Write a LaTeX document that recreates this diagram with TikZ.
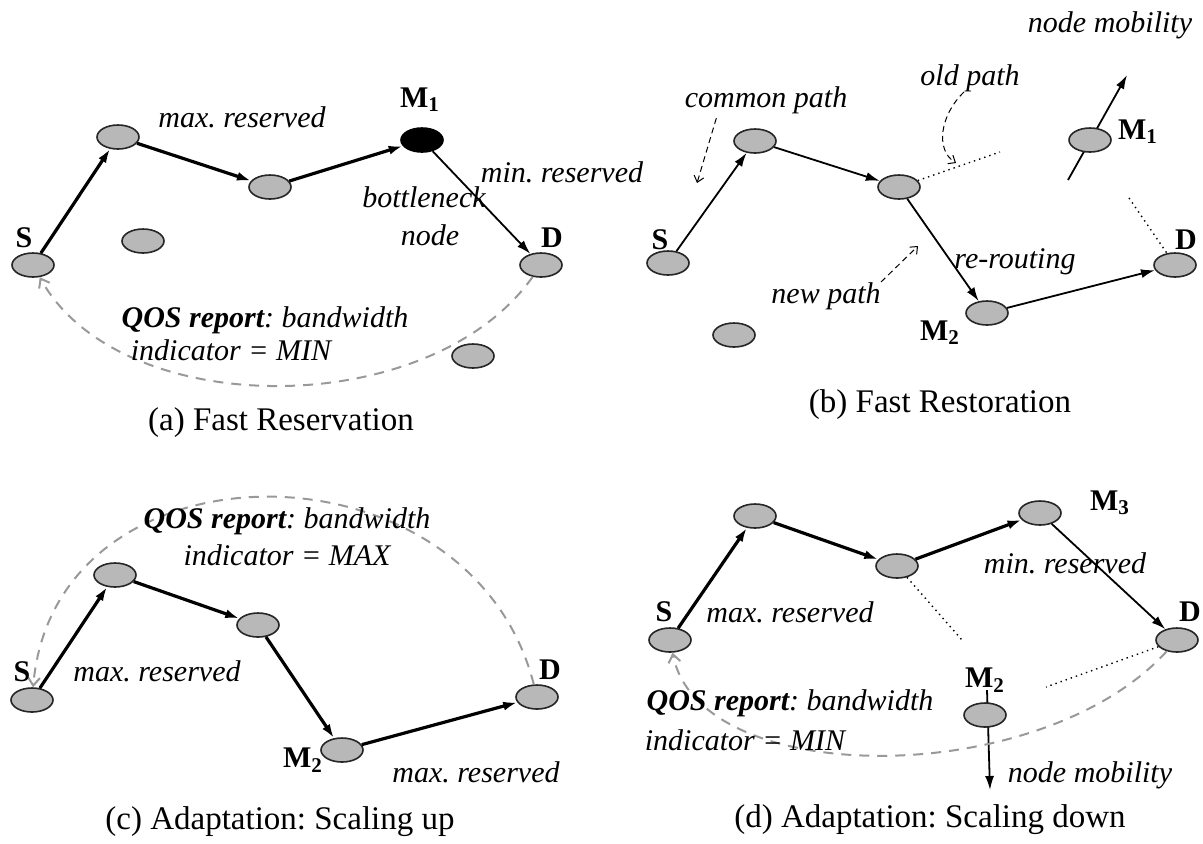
\documentclass[tikz,border=0pt]{standalone}
\usepackage{fontspec}
\setmainfont{Liberation Serif}
\usetikzlibrary{shapes.geometric,arrows.meta}
\frenchspacing

\begin{document}
\begin{tikzpicture}[x=0.5pt, y=-0.5pt,
  host/.style = {shape=ellipse, draw=black!85, line width=0.8pt, fill=black!28,
    minimum width=21pt, minimum height=12pt, inner sep=0pt},
  hub/.style = {host, fill=black, draw=black},
  tag/.style = {font=\fontsize{15}{17}\selectfont\bfseries, inner sep=0pt},
  note/.style = {font=\fontsize{15}{18}\selectfont\itshape, inner sep=0pt},
  capt/.style = {font=\fontsize{16.5}{19}\selectfont, inner sep=0pt},
  fat/.style = {line width=1.6pt, -{Latex[length=7pt,width=4.5pt]}},
  slim/.style = {line width=0.9pt, -{Latex[length=7pt,width=4.5pt]}},
  report/.style = {black!40, line width=1pt, dash pattern=on 5pt off 4pt,
    -{Straight Barb[length=4pt,width=6pt]}},
  hint/.style = {line width=0.5pt, dash pattern=on 3pt off 2pt,
    -{Straight Barb[length=3pt,width=5pt]}},
  gone/.style = {line width=0.7pt, dotted}]
\useasboundingbox (0,0) rectangle (1203,843);

% (a) fast reservation
\node[host] (aS) at (33,265) {};
\node[host] (a1) at (118,137) {};
\node[host] (a2) at (270,187) {};
\node[hub] (aM1) at (422,140) {};
\node[host] (aD) at (541,265) {};
\node[host] (a3) at (143,241) {};
\node[host] (a4) at (473,356) {};
\draw[fat] (aS) -- (a1);
\draw[fat] (a1) -- (a2);
\draw[fat] (a2) -- (aM1);
\draw[slim] (aM1) -- (aD);
\draw[report] (aD) .. controls (430,422) and (120,422) .. (aS);
\node[tag] (aSl) at (24,238) {S};
\node[tag] (aDl) at (552,238) {D};
\node[tag] (aM1l) at (420,100) {M\textsubscript{1}};
\node[note] (aMax) at (242,117) {max. reserved};
\node[note] (aMin) at (562,172) {min. reserved};
\node[note] (aBott) at (424,197) {bottleneck};
\node[note] (aNode) at (430,235) {node};
\node[note] (aQos) at (265,320) {\textbf{QOS report}: bandwidth};
\node[note] (aInd) at (231,350) {indicator = MIN};
\node[capt] (aCap) at (281,423) {(a) Fast Reservation};

% (b) fast restoration
\node[host] (bS) at (668,263) {};
\node[host] (b1) at (755,141) {};
\node[host] (b2) at (899,187) {};
\node[host] (bM2) at (987,313) {};
\node[host] (bD) at (1175,265) {};
\node[host] (b3) at (734,335) {};
\coordinate (bFrom) at (1068,180);
\coordinate (bGo) at (1127,75);
\draw[slim] (bFrom) -- (bGo);
\node[host] (bM1) at (1090,140) {};
\draw[slim] (bS) -- (b1);
\draw[slim] (b1) -- (b2);
\draw[slim] (b2) -- (bM2);
\draw[slim] (bM2) -- (bD);
\coordinate (bOld1) at (1000,152);
\coordinate (bOld2) at (1129,198);
\draw[gone] (b2) -- (bOld1);
\draw[gone] (bOld2) -- (bD);
\node[tag] (bSl) at (660,240) {S};
\node[tag] (bDl) at (1186,240) {D};
\node[tag] (bM1l) at (1138,132) {M\textsubscript{1}};
\node[tag] (bM2l) at (940,333) {M\textsubscript{2}};
\node[note] (bMob) at (1110,25) {node mobility};
\node[note] (bOld) at (970,78) {old path};
\node[note] (bCommon) at (766,100) {common path};
\node[note] (bRe) at (1015,262) {re-routing};
\node[note] (bNew) at (826,296) {new path};
\coordinate (bTipOld) at (956,163);
\coordinate (bTipCommon) at (697,183);
\coordinate (bTipNew) at (918,246);
\draw[hint] ([xshift=-3pt]bOld.south) .. controls (940,115) and (935,150) .. (bTipOld);
\draw[hint] ([xshift=16pt,yshift=-2pt]bCommon.south west) -- (bTipCommon);
\draw[hint] (bNew.north east) -- (bTipNew);
\node[capt] (bCap) at (940,405) {(b) Fast Restoration};

% (c) scaling up
\node[host] (cS) at (32,700) {};
\node[host] (c1) at (115,575) {};
\node[host] (c2) at (258,625) {};
\node[host] (cM2) at (342,750) {};
\node[host] (cD) at (537,697) {};
\draw[fat] (cS) -- (c1);
\draw[fat] (c1) -- (c2);
\draw[fat] (c2) -- (cM2);
\draw[fat] (cM2) -- (cD);
\draw[report] (cD) .. controls (470,434) and (55,434) .. (cS);
\node[tag] (cSl) at (22,672) {S};
\node[tag] (cDl) at (550,670) {D};
\node[tag] (cM2l) at (303,760) {M\textsubscript{2}};
\node[note] (cMax1) at (157,671) {max. reserved};
\node[note] (cMax2) at (476,772) {max. reserved};
\node[note] (cQos) at (287,521) {\textbf{QOS report}: bandwidth};
\node[note] (cInd) at (287,555) {indicator = MAX};
\node[capt] (cCap) at (280,822) {(c) Adaptation: Scaling up};

% (d) scaling down
\node[host] (dS) at (670,640) {};
\node[host] (d1) at (755,516) {};
\node[host] (d2) at (897,566) {};
\node[host] (dM3) at (1040,513) {};
\node[host] (dD) at (1177,640) {};
\coordinate (dFrom) at (987,690);
\coordinate (dGo) at (990,790);
\draw[slim] (dFrom) -- (dGo);
\node[host] (dM2) at (985,715) {};
\draw[fat] (dS) -- (d1);
\draw[fat] (d1) -- (d2);
\draw[fat] (d2) -- (dM3);
\draw[slim] (dM3) -- (dD);
\coordinate (dCut1) at (962,640);
\coordinate (dCut2) at (1046,687);
\draw[gone] (d2) -- (dCut1);
\draw[gone] (dD) -- (dCut2);
\draw[report] (dD) .. controls (1040,790) and (700,790) .. (dS);
\node[tag] (dSl) at (664,612) {S};
\node[tag] (dDl) at (1190,612) {D};
\node[tag] (dM3l) at (1110,503) {M\textsubscript{3}};
\node[tag] (dM2l) at (985,680) {M\textsubscript{2}};
\node[note] (dMin) at (1065,563) {min. reserved};
\node[note] (dMax) at (790,612) {max. reserved};
\node[note] (dQos) at (790,703) {\textbf{QOS report}: bandwidth};
\node[note] (dInd) at (745,740) {indicator = MIN};
\node[note] (dMob) at (1090,775) {node mobility};
\node[capt] (dCap) at (930,820) {(d) Adaptation: Scaling down};
\end{tikzpicture}
\end{document}
